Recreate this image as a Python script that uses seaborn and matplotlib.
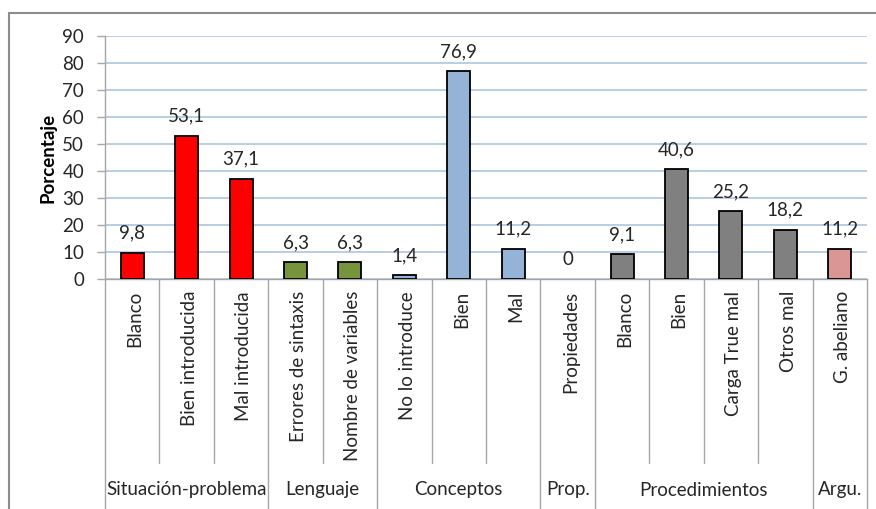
import matplotlib
matplotlib.use("Agg")
import matplotlib.pyplot as plt
import seaborn as sns
import pandas as pd
from matplotlib.lines import Line2D

# ---- data ----
groups = ["Situación-problema", "Situación-problema", "Situación-problema",
          "Lenguaje", "Lenguaje",
          "Conceptos", "Conceptos", "Conceptos",
          "Prop.",
          "Procedimientos", "Procedimientos", "Procedimientos", "Procedimientos",
          "Argu."]
categories = ["Blanco", "Bien introducida", "Mal introducida",
              "Errores de sintaxis", "Nombre de variables",
              "No lo introduce", "Bien", "Mal",
              "Propiedades",
              "Blanco", "Bien", "Carga True mal", "Otros mal",
              "G. abeliano"]
values = [9.8, 53.1, 37.1, 6.3, 6.3, 1.4, 76.9, 11.2, 0, 9.1, 40.6, 25.2, 18.2, 11.2]
value_labels = ["9,8", "53,1", "37,1", "6,3", "6,3", "1,4", "76,9", "11,2", "0",
                "9,1", "40,6", "25,2", "18,2", "11,2"]
group_colors = {"Situación-problema": "#FF0000", "Lenguaje": "#77933C",
                "Conceptos": "#95B3D7", "Prop.": "#95B3D7",
                "Procedimientos": "#808080", "Argu.": "#D99694"}
yticks = [0, 10, 20, 30, 40, 50, 60, 70, 80, 90]

keys = [f"{i:02d}_{c}" for i, c in enumerate(categories)]
df = pd.DataFrame({"key": keys, "cat": categories, "group": groups, "value": values})

sns.set_theme(style="white")
plt.rcParams["font.family"] = ["Lato", "DejaVu Sans"]
FS = 13.5
TXT = "#262626"
AXC = "#A6A6A6"

W, H = 876, 509
fig = plt.figure(figsize=(W / 100, H / 100), dpi=100)
L, R, T, B = 105, 867, 36, 279
ax = fig.add_axes([L / W, 1 - B / H, (R - L) / W, (B - T) / H])

sns.barplot(data=df, x="key", y="value", hue="group", palette=group_colors,
            order=keys, dodge=False, width=0.42, edgecolor="black",
            linewidth=1.3, legend=False, ax=ax, zorder=3, saturation=1)

# a zero-height bar shows nothing
for p in ax.patches:
    if abs(p.get_height()) < 1e-9:
        p.set_edgecolor("none")

ax.set_xlim(-0.5, len(keys) - 0.5)
ax.set_ylim(0, 90)
ax.set_yticks(yticks)
ax.set_yticklabels([str(t) for t in yticks], fontsize=FS, color=TXT)
ax.set_xticks([])
ax.set_xlabel("")
ax.set_ylabel("")
ax.grid(axis="y", color="#B9CDE5", linewidth=1.4, zorder=0)
ax.set_axisbelow(True)
for s in ["top", "right"]:
    ax.spines[s].set_visible(False)
ax.spines["left"].set_color(AXC)
ax.spines["bottom"].set_color(AXC)
ax.spines["left"].set_linewidth(1.0)
ax.spines["bottom"].set_linewidth(1.0)
ax.tick_params(axis="y", left=True, length=6, width=1.0, color=AXC, pad=9)

# value labels
for i, (v, lab) in enumerate(zip(values, value_labels)):
    ax.annotate(lab, (i, v), xytext=(0, 14), textcoords="offset pixels",
                ha="center", va="baseline", fontsize=FS, color=TXT)

# pixel-y to axes coordinate helper
def ay(py):
    return (B - py) / (B - T)

tr = ax.get_xaxis_transform()

# rotated category labels
for i, c in enumerate(categories):
    ax.text(i + 0.05, ay(291), c, rotation=90, ha="center", va="top",
            fontsize=FS, color=TXT, transform=tr, clip_on=False)

# separators
n = len(categories)
for b in range(n + 1):
    x = b - 0.5
    is_group_edge = b == 0 or b == n or groups[b - 1] != groups[b]
    y_end = ay(H + 5) if is_group_edge else ay(463)
    ax.add_line(Line2D([x, x], [0, y_end], transform=tr, color=AXC,
                       linewidth=1.0, clip_on=False))

# group labels
start = 0
for b in range(1, n + 1):
    if b == n or groups[b] != groups[start]:
        cx = (start + b - 1) / 2
        ax.text(cx, ay(490), groups[start], ha="center", va="center",
                fontsize=FS, color=TXT, transform=tr, clip_on=False)
        start = b

# y-axis title
fig.text(48 / W, 1 - 158 / H, "Porcentaje", rotation=90, ha="center",
         va="center", fontsize=FS, fontweight="bold", color="black")

# outer chart border
fig.add_artist(Line2D([9 / W, 1.0], [1 - 13 / H, 1 - 13 / H],
                      transform=fig.transFigure, color="#8C8C8C", linewidth=1.5))
fig.add_artist(Line2D([9 / W, 9 / W], [0, 1 - 13 / H],
                      transform=fig.transFigure, color="#8C8C8C", linewidth=1.5))

fig.savefig("out.png", dpi=100)
